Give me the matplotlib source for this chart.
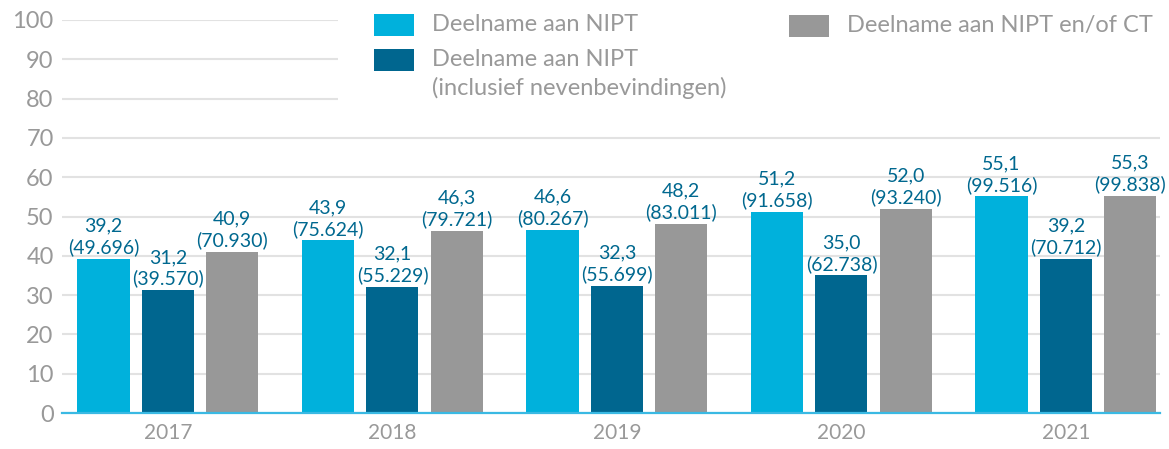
"""
Deelname NIPT per jaar - staafdiagram
"""

import matplotlib
matplotlib.use('Agg')
import matplotlib.pyplot as plt
from matplotlib.patches import Rectangle
import numpy as np

plt.rcParams['font.family'] = ['Lato', 'DejaVu Sans']

# data
jaren = ['2017', '2018', '2019', '2020', '2021']
nipt = [39.2, 43.9, 46.6, 51.2, 55.1]
nipt_aantal = ['49.696', '75.624', '80.267', '91.658', '99.516']
nipt_incl = [31.2, 32.1, 32.3, 35.0, 39.2]
nipt_incl_aantal = ['39.570', '55.229', '55.699', '62.738', '70.712']
nipt_ct = [40.9, 46.3, 48.2, 52.0, 55.3]
nipt_ct_aantal = ['70.930', '79.721', '83.011', '93.240', '99.838']

# kleuren
licht_blauw = '#00b1dc'
donker_blauw = '#00668f'
grijs = '#989898'
tekst_grijs = '#999999'
label_blauw = '#00688f'

W, H = 1169, 449
fig = plt.figure(figsize=(W / 100, H / 100), dpi=100)
ax = fig.add_axes([62 / W, 1 - 413 / H, (1160 - 62) / W, (413 - 20) / H])

x = np.arange(len(jaren))
bw = 0.232
off = 0.287

series = [
    (nipt, nipt_aantal, licht_blauw, -off),
    (nipt_incl, nipt_incl_aantal, donker_blauw, 0),
    (nipt_ct, nipt_ct_aantal, grijs, off),
]

for vals, aantallen, kleur, dx in series:
    bars = ax.bar(x + dx, vals, width=bw, color=kleur, zorder=3)
    for b, v, a in zip(bars, vals, aantallen):
        ax.annotate(f"{v:.1f}".replace('.', ',') + f"\n({a})",
                    xy=(b.get_x() + b.get_width() / 2, v),
                    xytext=(0, 2), textcoords='offset points',
                    ha='center', va='bottom', fontsize=14,
                    color=label_blauw, linespacing=1.25, zorder=4)

ax.set_xlim(-0.472, 4.419)
ax.set_ylim(0, 100)
ax.set_yticks(range(0, 101, 10))
ax.set_xticks(x)
ax.set_xticklabels(jaren)

ax.grid(axis='y', color='#e2e2e2', linewidth=1.5, zorder=0)
ax.set_axisbelow(True)
for s in ['top', 'right', 'left']:
    ax.spines[s].set_visible(False)
ax.spines['bottom'].set_color('#3ab9e3')
ax.spines['bottom'].set_linewidth(1.6)
ax.spines['bottom'].set_zorder(5)

ax.tick_params(axis='y', length=0, pad=6, labelsize=17, labelcolor=tekst_grijs)
ax.tick_params(axis='x', length=0, pad=7, labelsize=15, labelcolor=tekst_grijs)

# legenda (met witte achtergrond over de rasterlijnen)
fig.patches.append(Rectangle((338 / W, 1 - 108 / H), 1 - 338 / W, 108 / H,
                             transform=fig.transFigure, facecolor='white',
                             edgecolor='none', zorder=6))

# (x vak, y vak, kleur, regels tekst met basislijn in pixels)
legenda = [
    (374, 14, licht_blauw, [('Deelname aan NIPT', 31)]),
    (374, 49, donker_blauw, [('Deelname aan NIPT', 66),
                             ('(inclusief nevenbevindingen)', 95)]),
    (789, 15, grijs, [('Deelname aan NIPT en/of CT', 32)]),
]
for lx, ly, kleur, regels in legenda:
    fig.patches.append(Rectangle((lx / W, 1 - (ly + 22) / H), 40 / W, 22 / H,
                                 transform=fig.transFigure, facecolor=kleur,
                                 edgecolor='none', zorder=7))
    for tekst, basis in regels:
        fig.text((lx + 58) / W, 1 - basis / H, tekst, fontsize=17,
                 color=tekst_grijs, ha='left', va='baseline', zorder=8)

fig.savefig('out.png', dpi=100, facecolor='white')
plt.close(fig)
